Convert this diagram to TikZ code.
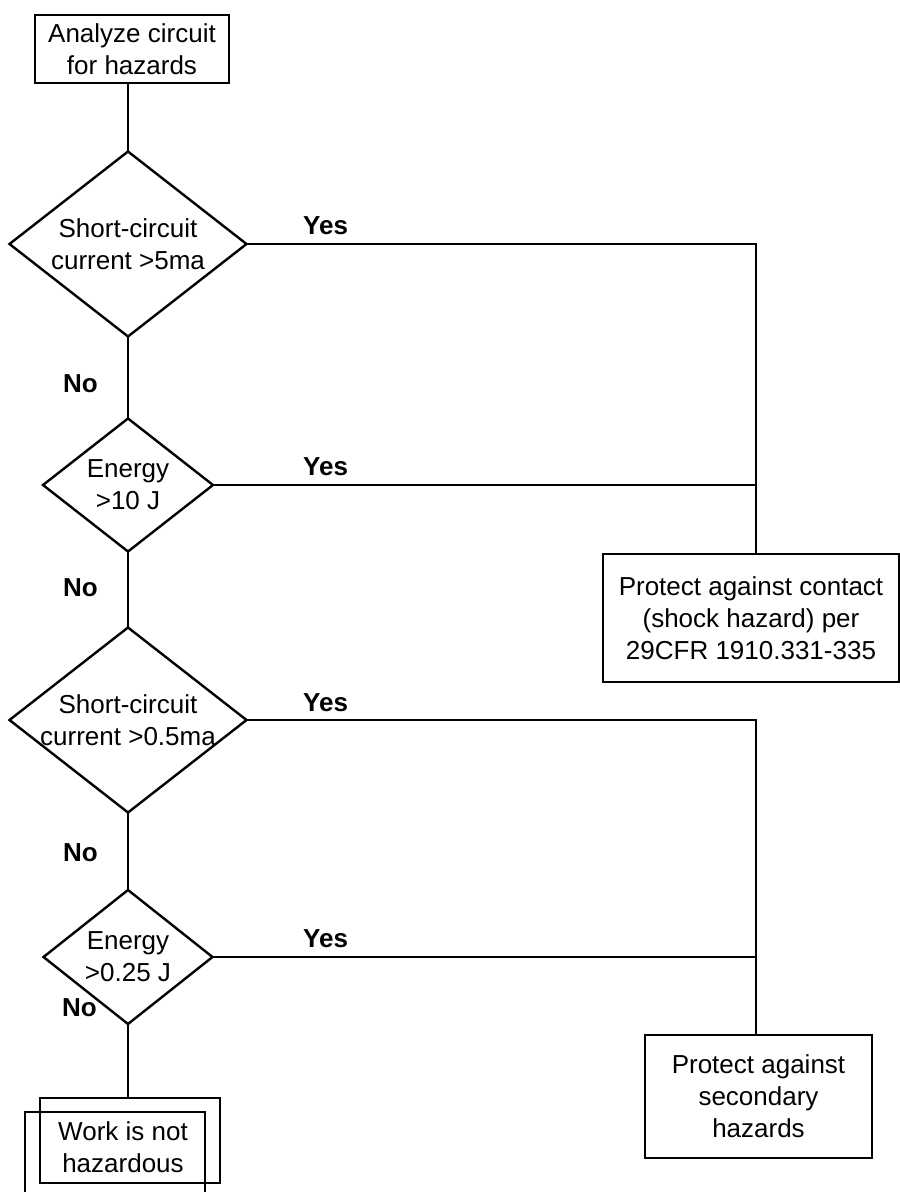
\documentclass[tikz,border=0pt]{standalone}
\usepackage{fontspec}
\setmainfont{Liberation Sans}
\usetikzlibrary{shapes.geometric}
\tikzset{
  ln/.style={line width=2.4pt, line cap=rect},
  txt/.style={font=\fontsize{26}{32}\selectfont, align=center, inner sep=0pt},
  lbl/.style={font=\bfseries\fontsize{26}{32}\selectfont, inner sep=0pt, anchor=base west},
  box/.style={draw, line width=2.4pt, txt, rectangle},
  dia/.style={draw, line width=2.4pt, shape=diamond, inner sep=0pt},
}
\begin{document}
\begin{tikzpicture}[x=1pt,y=-1pt]
\fill[white] (0,0) rectangle (900,1192);
\useasboundingbox (0,0) rectangle (900,1192);

% start box
\node[box, minimum width=194pt, minimum height=68pt] (start) at (132,49) {Analyze circuit\\for hazards};

% decisions
\node[dia, minimum width=238pt, minimum height=186pt,
  label={[txt]center:Short-circuit\\current >5ma}] (d1) at (128,244) {};
\node[dia, minimum width=171pt, minimum height=134pt,
  label={[txt]center:Energy\\>10 J}] (d2) at (128,485) {};
\node[dia, minimum width=238pt, minimum height=186pt,
  label={[txt]center:Short-circuit\\current >0.5ma}] (d3) at (128,720) {};
\node[dia, minimum width=170pt, minimum height=135pt,
  label={[txt]center:Energy\\>0.25 J}] (d4) at (128,957) {};

% outcome boxes
\node[box, minimum width=296pt, minimum height=128pt] (p1) at (751,618) {Protect against contact\\(shock hazard) per\\29CFR 1910.331-335};
\node[box, minimum width=227pt, minimum height=123pt] (p2) at (758.5,1096.5) {Protect against\\secondary\\hazards};

\node[box, minimum width=180pt, minimum height=85pt,
  label={[txt, xshift=-7pt, yshift=-7pt]center:Work is not\\hazardous}] (work) at (130,1140.5) {};
\node[draw, line width=2.4pt, rectangle, minimum width=180pt, minimum height=90pt, inner sep=0pt] (workb) at (115,1157) {};

% bus coordinates
\coordinate (b1) at (756,554);
\coordinate (b2) at (756,1035);

% connectors
\draw[ln] (start.south -| d1.north) -- (d1.north);
\draw[ln] (d1.south) -- (d2.north);
\draw[ln] (d2.south) -- (d3.north);
\draw[ln] (d3.south) -- (d4.north);
\draw[ln] (d4.south) -- (d4.south |- work.north);
\draw[ln] (d1.east) -| (b1);
\draw[ln] (d2.east) -- (d2.east -| b1);
\draw[ln] (d3.east) -| (b2);
\draw[ln] (d4.east) -- (d4.east -| b2);

% labels
\node[lbl] (y1) at (303,234) {Yes};
\node[lbl] (y2) at (303,475) {Yes};
\node[lbl] (y3) at (303,711) {Yes};
\node[lbl] (y4) at (303,947) {Yes};
\node[lbl] (n1) at (63,392) {No};
\node[lbl] (n2) at (63,596) {No};
\node[lbl] (n3) at (63,861) {No};
\node[lbl] (n4) at (62,1016) {No};
\end{tikzpicture}
\end{document}
